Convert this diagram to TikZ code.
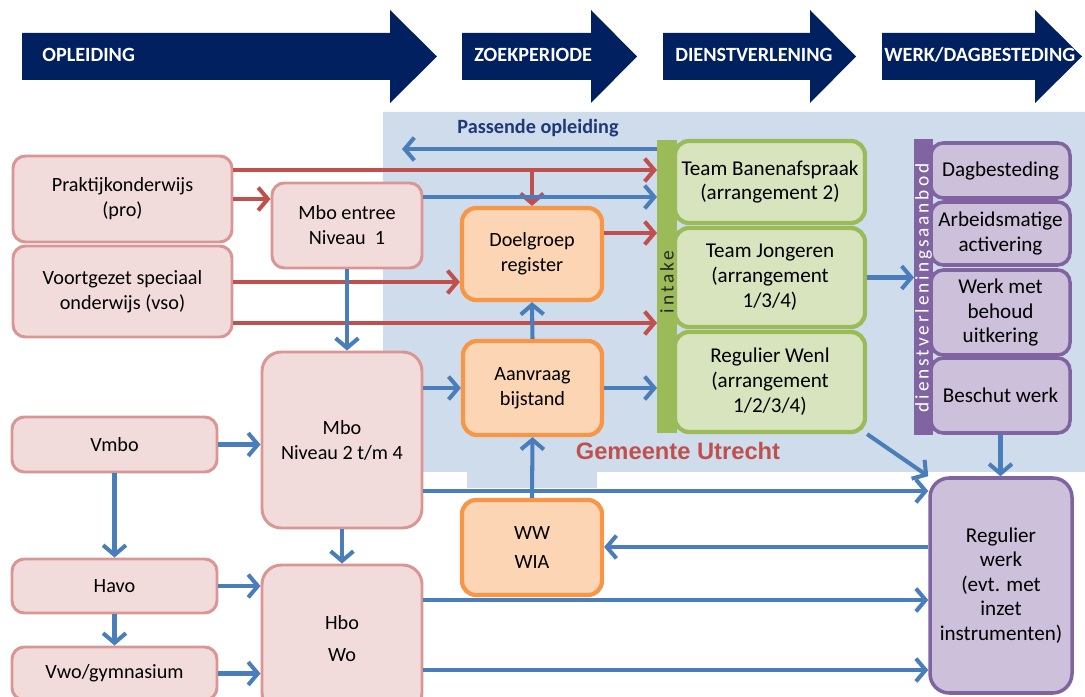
\documentclass[tikz,border=0pt]{standalone}
\usepackage{fontspec}
\setmainfont{Carlito}
\newfontfamily\gemfont{Liberation Sans}
\usetikzlibrary{arrows.meta}

\definecolor{kopblauw}{RGB}{0,32,96}
\definecolor{achtergrond}{RGB}{207,220,235}
\definecolor{rozevul}{RGB}{242,220,219}
\definecolor{rozelijn}{RGB}{217,150,148}
\definecolor{oranjevul}{RGB}{252,213,181}
\definecolor{oranjelijn}{RGB}{247,150,70}
\definecolor{groenvul}{RGB}{215,228,189}
\definecolor{groenlijn}{RGB}{155,187,89}
\definecolor{paarsvul}{RGB}{204,192,218}
\definecolor{paarslijn}{RGB}{128,100,162}
\definecolor{pijlb}{RGB}{74,126,187}
\definecolor{pijlr}{RGB}{192,80,77}
\definecolor{passblauw}{RGB}{31,56,120}

\tikzset{
  maat/.style 2 args={minimum width=#1, minimum height=#2},
  blok/.style={inner sep=0pt, align=center, line width=1.7pt, rounded corners=7pt},
  roze/.style={blok, draw=rozelijn, fill=rozevul, font=\fontsize{11.5}{14.2}\selectfont},
  oranje/.style={blok, draw=oranjelijn, fill=oranjevul, line width=2.4pt, rounded corners=8pt, font=\fontsize{11.5}{14}\selectfont},
  groen/.style={blok, draw=groenlijn, fill=groenvul, line width=2.4pt, rounded corners=8pt, font=\fontsize{12}{14.2}\selectfont},
  paars/.style={blok, draw=paarslijn, fill=paarsvul, line width=2pt, rounded corners=7pt, font=\fontsize{12}{14}\selectfont},
  staaf/.style={inner sep=0pt, outer sep=0pt},
  pijlblauw/.style={draw=pijlb, line width=2.3pt, -{Straight Barb[length=5.5pt,width=13pt]}},
  pijlrood/.style={pijlblauw, draw=pijlr},
  koptekst/.style={text=white, font=\bfseries\fontsize{11.5}{14}\selectfont, anchor=west, inner sep=0pt},
  staaftekst/.style={rotate=90, inner sep=0pt, font=\fontsize{11}{13}\selectfont\addfontfeature{LetterSpace=15}}
}

\begin{document}
\begin{tikzpicture}[x=0.2mm, y=-0.2mm]
  \useasboundingbox (0,0) rectangle (1085,697);
  \clip (0,0) rectangle (1085,697);

  % gebied gemeente
  \fill[achtergrond] (383,112) -- (1085,112) -- (1085,472) -- (597,472) -- (597,488)
    -- (467,488) -- (467,472) -- (383,472) -- cycle;

  % kopjes
  \fill[kopblauw] (22,33) -- (390,33) -- (390,10) -- (437,56.5) -- (390,103) -- (390,80) -- (22,80) -- cycle;
  \fill[kopblauw] (462,33) -- (591,33) -- (591,10) -- (637,56.5) -- (591,103) -- (591,80) -- (462,80) -- cycle;
  \fill[kopblauw] (663,33) -- (810,33) -- (810,10) -- (856,56.5) -- (810,103) -- (810,80) -- (663,80) -- cycle;
  \fill[kopblauw] (882,33) -- (1035,33) -- (1035,10) -- (1082,56.5) -- (1035,103) -- (1035,80) -- (882,80) -- cycle;
  \node[koptekst] (kopopleiding) at (42,55) {OPLEIDING};
  \node[koptekst] (kopzoek) at (474,55) {ZOEKPERIODE};
  \node[koptekst] (kopdienst) at (675,55) {DIENSTVERLENING};
  \node[koptekst] (kopwerk) at (884,55) {WERK/DAGBESTEDING};

  % opleidingen
  \node[roze, maat={43.8mm}{17.2mm}] (prak) at (122.5,199) {Praktijkonderwijs\\(pro)};
  \node[roze, maat={43.8mm}{18.2mm}] (vso) at (122.5,291.5) {Voortgezet speciaal\\onderwijs (vso)};
  \node[roze, maat={30mm}{17mm}] (entree) at (347,225.5) {Mbo entree\\Niveau~~1};
  \node[roze, maat={41mm}{11mm}] (vmbo) at (114.5,444.5) {Vmbo};
  \node[roze, maat={41mm}{10.8mm}] (havo) at (114.5,586) {Havo};
  \node[roze, maat={41mm}{10.6mm}] (vwo) at (114.5,673.5) {Vwo/gymnasium};
  \node[roze, rounded corners=11pt, maat={32mm}{35.2mm}] (mbo) at (342,440) {Mbo\\Niveau 2 t/m 4};
  \node[roze, rounded corners=11pt, maat={32mm}{29.4mm}] (hbo) at (342,638.5) {Hbo\\[4pt]Wo};

  % zoekperiode
  \node[oranje, maat={28mm}{18.4mm}] (doel) at (532,254) {Doelgroep\\register};
  \node[oranje, maat={27.8mm}{18.8mm}] (aanv) at (532.5,388) {Aanvraag\\bijstand};
  \node[oranje, maat={28mm}{19mm}] (ww) at (532,547.5) {WW\\[2pt]WIA};

  % dienstverlening
  \node[groen, maat={38mm}{16.4mm}] (banen) at (770,182) {Team Banenafspraak\\(arrangement 2)};
  \node[groen, maat={38mm}{19.8mm}] (jong) at (770,277.5) {Team Jongeren\\(arrangement\\1/3/4)};
  \node[groen, maat={38mm}{20mm}] (wenl) at (770,382) {Regulier Wenl\\(arrangement\\1/2/3/4)};
  \node[staaf, fill=groenlijn, maat={4mm}{58.6mm}] (intake) at (667,286.5) {};
  \node[staaftekst, text=black!85] (intaketekst) at (667,282) {intake};

  % werk en dagbesteding
  \node[paars, maat={27.8mm}{11mm}] (dagb) at (1000.5,170.5) {Dagbesteding};
  \node[paars, maat={27.8mm}{12.6mm}] (arbeid) at (1000.5,233.5) {Arbeidsmatige\\activering};
  \node[paars, maat={27.8mm}{17mm}] (behoud) at (1000.5,312.5) {Werk met\\behoud\\uitkering};
  \node[paars, maat={27.8mm}{15mm}] (beschut) at (1000.5,395.5) {Beschut werk};
  \node[staaf, fill=paarslijn, maat={3.8mm}{59.2mm}] (aanbod) at (923.5,287) {};
  \node[staaftekst, text=white] (aanbodtekst) at (923.5,288) {dienstverleningsaanbod};
  \node[paars, rounded corners=11pt, maat={28.4mm}{43mm}] (regwerk) at (1001,585.5) {Regulier\\werk\\(evt. met\\inzet\\instrumenten)};

  % losse teksten
  \node[font=\bfseries\fontsize{11.5}{14}\selectfont, text=passblauw] (passende) at (538,128) {Passende opleiding};
  \node[font=\gemfont\bfseries\fontsize{13.5}{15}\selectfont, text=pijlr] (gemeente) at (678,451) {Gemeente Utrecht};

  % hoogtes van de pijlen
  \coordinate (h149) at (0,149);
  \coordinate (h170) at (0,170);
  \coordinate (h197) at (0,197);
  \coordinate (h233) at (0,233);
  \coordinate (h282) at (0,282);
  \coordinate (h323) at (0,323);
  \coordinate (h491) at (0,491);
  \coordinate (h547) at (0,547);
  \coordinate (h600) at (0,600);
  \coordinate (h670) at (0,670);
  \coordinate (passeind) at (402,149);

  % rode pijlen
  \draw[pijlrood] (prak.east |- h170) -- (intake.west |- h170);
  \draw[pijlrood] (doel.north |- h170) -- (doel.north);
  \draw[pijlrood] (prak.east) -- (prak.east -| entree.west);
  \draw[pijlrood] (vso.east |- h282) -- (doel.west |- h282);
  \draw[pijlrood] (vso.east |- h323) -- (intake.west |- h323);
  \draw[pijlrood] (doel.east |- h233) -- (intake.west |- h233);

  % blauwe pijlen
  \draw[pijlblauw] (intake.west |- h149) -- (passeind);
  \draw[pijlblauw] (entree.east |- h197) -- (intake.west |- h197);
  \draw[pijlblauw] (entree.south) -- (entree.south |- mbo.north);
  \draw[pijlblauw] (mbo.east |- aanv.west) -- (aanv.west);
  \draw[pijlblauw] (aanv.north) -- (doel.south);
  \draw[pijlblauw] (aanv.east) -- (aanv.east -| intake.west);
  \draw[pijlblauw] (ww.north) -- (aanv.south);
  \draw[pijlblauw] (vmbo.east) -- (vmbo.east -| mbo.west);
  \draw[pijlblauw] (vmbo.south) -- (havo.north);
  \draw[pijlblauw] (havo.south) -- (vwo.north);
  \draw[pijlblauw] (havo.east) -- (havo.east -| hbo.west);
  \draw[pijlblauw] (vwo.east) -- (vwo.east -| hbo.west);
  \draw[pijlblauw] (mbo.south) -- (mbo.south |- hbo.north);
  \draw[pijlblauw] (mbo.east |- h491) -- (regwerk.west |- h491);
  \draw[pijlblauw] (regwerk.west |- h547) -- (ww.east |- h547);
  \draw[pijlblauw] (hbo.east |- h600) -- (regwerk.west |- h600);
  \draw[pijlblauw] (hbo.east |- h670) -- (regwerk.west |- h670);
  \draw[pijlblauw] (jong.east) -- (jong.east -| aanbod.west);
  \draw[pijlblauw] (wenl.south east) -- (regwerk.north west);
  \draw[pijlblauw] (beschut.south) -- (beschut.south |- regwerk.north);
\end{tikzpicture}
\end{document}
